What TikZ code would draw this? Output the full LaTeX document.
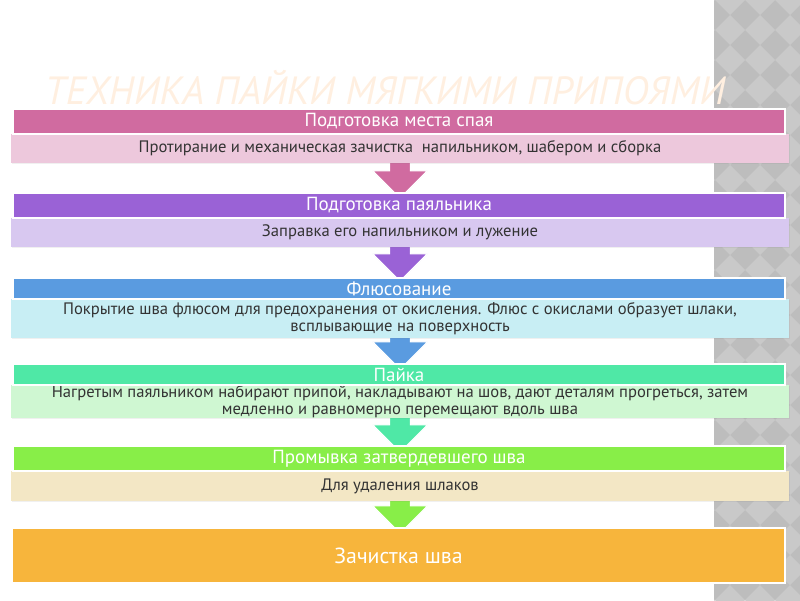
\documentclass[tikz,border=0pt]{standalone}
\usepackage{fontspec}
\setmainfont{PT Sans}
\usetikzlibrary{shapes.arrows, shadows, positioning}

\definecolor{pinkHead}{HTML}{D06BA0}
\definecolor{pinkNote}{HTML}{EDC8DC}
\definecolor{violetHead}{HTML}{9A62D6}
\definecolor{violetNote}{HTML}{D8C8F0}
\definecolor{blueHead}{HTML}{5A9BE0}
\definecolor{blueNote}{HTML}{C8EEF4}
\definecolor{mintHead}{HTML}{4FE8A6}
\definecolor{mintNote}{HTML}{CFF7D2}
\definecolor{limeHead}{HTML}{88EE48}
\definecolor{limeNote}{HTML}{F3E7C5}
\definecolor{orangeBox}{HTML}{F7B53C}
\definecolor{stripGray}{HTML}{BDBDBD}
\definecolor{stripLight}{HTML}{C9C9C9}
\definecolor{titlePeach}{HTML}{FFEFE0}

\tikzset{
    head_bar/.style={
        rectangle, draw=white, line width=1.2pt, inner sep=0pt,
        minimum width=19.28cm, text=white,
        font=\fontsize{13.5}{15}\selectfont
    },
    note_bar/.style={
        rectangle, inner sep=0pt, minimum width=19.45cm,
        align=center, text=black!80, font=\fontsize{11.8}{12.2}\selectfont,
        drop shadow={opacity=0.12, shadow xshift=0.8pt, shadow yshift=-0.8pt}
    },
    end_bar/.style={
        rectangle, draw=white, line width=1.2pt, inner sep=0pt,
        minimum width=19.33cm, text=white, font=\fontsize{15.5}{17}\selectfont,
        drop shadow={opacity=0.12, shadow xshift=0.8pt, shadow yshift=-0.8pt}
    },
    step_arrow/.style={
        single arrow, draw=white, line width=0.8pt, rotate=-90,
        inner xsep=0pt, inner ysep=7.1pt, single arrow head extend=12pt,
        single arrow head indent=0pt
    }
}

\begin{document}
\begin{tikzpicture}[x=0.025cm, y=-0.025cm]

    \useasboundingbox (0,0) rectangle (800,600);

    % patterned strip on the right
    \fill[stripGray] (714,0) rectangle (800,600);
    \begin{scope}
        \clip (714,0) rectangle (800,600);
        \foreach \i in {0,...,4} {
            \foreach \j in {0,...,21} {
                \fill[stripLight] ({700+30*\i},{30*\j-15}) -- ++(15,15) -- ++(-15,15) -- ++(-15,-15) -- cycle;
            }
        }
    \end{scope}

    % title
    \node[text=titlePeach, inner sep=0pt, text depth=0pt, anchor=base, font=\fontsize{28}{30}\selectfont\itshape] (title) at (385,104) {ТЕХНИКА ПАЙКИ МЯГКИМИ ПРИПОЯМИ};

    % arrows between the steps (behind the bars)
    \node[step_arrow, fill=pinkHead, minimum height=1.075cm] (a1) at (400,171.5) {};
    \node[step_arrow, fill=violetHead, minimum height=1.025cm] (a2) at (400,255.5) {};
    \node[step_arrow, fill=blueHead, minimum height=1.1cm] (a3) at (400,342) {};
    \node[step_arrow, fill=mintHead, minimum height=1.05cm] (a4) at (400,426) {};
    \node[step_arrow, fill=limeHead, minimum height=0.95cm] (a5) at (400,509) {};

    % steps
    \node[note_bar, fill=pinkNote, minimum height=0.725cm] (n1) at (400,148.5) {Протирание и механическая зачистка\ \ напильником, шабером и сборка};
    \node[head_bar, fill=pinkHead, minimum height=0.625cm] (h1) at (399,121.5) {Подготовка места спая};

    \node[note_bar, fill=violetNote, minimum height=0.725cm] (n2) at (400,232.5) {Заправка его напильником и лужение};
    \node[head_bar, fill=violetHead, minimum height=0.625cm] (h2) at (399,205.5) {Подготовка паяльника};

    \node[note_bar, fill=blueNote, minimum height=0.975cm] (n3) at (400,318.5) {Покрытие шва флюсом для предохранения от окисления. Флюс с окислами образует шлаки,\\всплывающие на поверхность};
    \node[head_bar, fill=blueHead, minimum height=0.525cm] (h3) at (399,288.5) {Флюсование};

    \node[note_bar, fill=mintNote, minimum height=0.825cm] (n4) at (400,401.5) {Нагретым паяльником набирают припой, накладывают на шов, дают деталям прогреться, затем\\медленно и равномерно перемещают вдоль шва};
    \node[head_bar, fill=mintHead, minimum height=0.525cm] (h4) at (399,374.5) {Пайка};

    \node[note_bar, fill=limeNote, minimum height=0.75cm] (n5) at (400,486) {Для удаления шлаков};
    \node[head_bar, fill=limeHead, minimum height=0.625cm] (h5) at (399,458.5) {Промывка затвердевшего шва};

    \node[end_bar, fill=orangeBox, minimum height=1.375cm] (h6) at (398.5,555.5) {Зачистка шва};

\end{tikzpicture}
\end{document}
